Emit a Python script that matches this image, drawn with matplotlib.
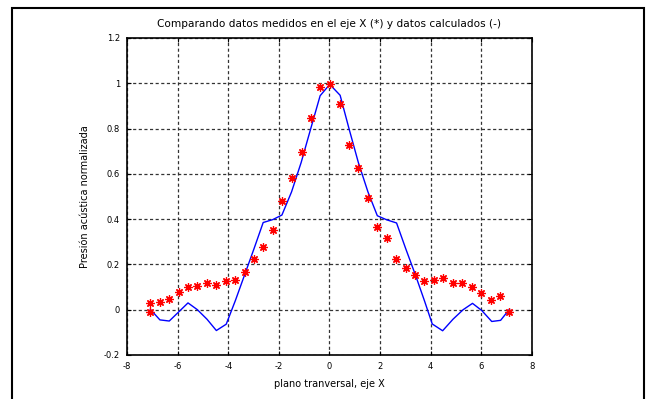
import numpy as np
import matplotlib
matplotlib.use("Agg")
import matplotlib.pyplot as plt
from matplotlib.ticker import FuncFormatter
from matplotlib.patches import Rectangle

# measured points (red stars)
x_med = [-7.08, -7.08, -6.70, -6.33, -5.96, -5.59, -5.22, -4.84, -4.47, -4.10,
         -3.72, -3.35, -2.98, -2.61, -2.24, -1.86, -1.48, -1.10, -0.73, -0.37,
         0.01, 0.40, 0.77, 1.14, 1.52, 1.89, 2.26, 2.64, 3.01, 3.39, 3.75,
         4.12, 4.49, 4.87, 5.25, 5.62, 6.00, 6.38, 6.74, 7.11]
y_med = [-0.01, 0.03, 0.035, 0.047, 0.077, 0.10, 0.105, 0.117, 0.109, 0.128,
         0.132, 0.165, 0.223, 0.277, 0.352, 0.478, 0.58, 0.695, 0.845, 0.985,
         0.995, 0.91, 0.728, 0.627, 0.494, 0.365, 0.318, 0.225, 0.183, 0.152,
         0.126, 0.129, 0.141, 0.118, 0.12, 0.10, 0.073, 0.045, 0.062, -0.008]

# calculated curve (blue line)
x_cal = [-7.08, -6.70, -6.33, -5.96, -5.59, -5.22, -4.84, -4.47, -4.08, -3.72,
         -3.35, -2.98, -2.62, -2.24, -1.88, -1.50, -1.12, -0.74, -0.37, 0.01,
         0.42, 0.77, 1.14, 1.52, 1.89, 2.26, 2.65, 3.01, 3.39, 3.75, 4.06,
         4.47, 4.88, 5.28, 5.65, 6.02, 6.41, 6.76, 7.11]
y_cal = [0.002, -0.045, -0.05, -0.01, 0.03, 0.0, -0.042, -0.092, -0.064, 0.04,
         0.155, 0.27, 0.385, 0.398, 0.418, 0.52, 0.65, 0.80, 0.945, 0.995,
         0.947, 0.80, 0.65, 0.52, 0.415, 0.397, 0.383, 0.27, 0.155, 0.04, -0.063,
         -0.093, -0.042, 0.0, 0.028, -0.004, -0.052, -0.047, 0.002]

plt.rcParams['font.family'] = ['DejaVu Sans']

fig = plt.figure(figsize=(6.46, 3.99), dpi=100)
ax = fig.add_axes([0.1966, 0.1103, 0.6269, 0.7945])

ax.plot(x_cal, y_cal, color="#0000ff", linewidth=1.0, zorder=3)
ax.plot(x_med, y_med, linestyle="none", marker=(8, 2, 0), markersize=6,
        markeredgewidth=0.9, color="#ff0000", zorder=4)

ax.set_xlim(-8, 8)
ax.set_ylim(-0.2, 1.2)
ax.set_xticks(np.arange(-8, 9, 2))
ax.set_yticks([-0.2, 0, 0.2, 0.4, 0.6, 0.8, 1, 1.2])
ax.yaxis.set_major_formatter(FuncFormatter(lambda v, p: "%g" % round(v, 2)))
ax.xaxis.set_major_formatter(FuncFormatter(lambda v, p: "%g" % v))

ax.grid(True, color="#333333", linestyle=(0, (2.5, 2)), linewidth=0.9)
ax.tick_params(direction="in", top=True, right=True, length=3, width=0.8,
               labelsize=6, colors="black", pad=5)
for s in ax.spines.values():
    s.set_linewidth(1.2)

ax.set_title("Comparando datos medidos en el eje X (*) y datos calculados (-)",
             fontsize=7.6, pad=8)
ax.set_xlabel("plano tranversal, eje X", fontsize=7, labelpad=6)
ax.set_ylabel("Presión acústica normalizada", fontsize=7, labelpad=10)

# outer frame
fig.patches.append(Rectangle((12 / 646, -0.01), 632 / 646, 1 - 8 / 399 + 0.01,
                             transform=fig.transFigure, fill=False,
                             edgecolor="black", linewidth=1.5))

fig.savefig("out.png", dpi=100)
